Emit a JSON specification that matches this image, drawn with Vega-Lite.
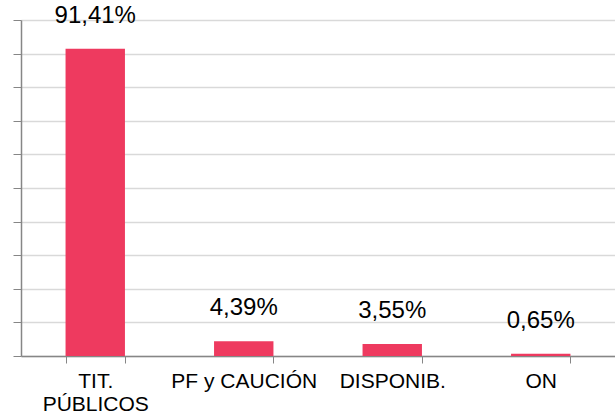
{
  "$schema": "https://vega.github.io/schema/vega-lite/v6.json",
  "width": 594,
  "height": 336,
  "autosize": {"type": "none"},
  "padding": {"left": 21, "top": 20, "right": 0, "bottom": 58},
  "background": "white",
  "config": {
    "view": {"stroke": null},
    "font": "Liberation Sans"
  },
  "data": {
    "values": [
      {"cat": "TIT. PÚBLICOS", "val": 91.41, "label": "91,41%"},
      {"cat": "PF y CAUCIÓN", "val": 4.39, "label": "4,39%"},
      {"cat": "DISPONIB.", "val": 3.55, "label": "3,55%"},
      {"cat": "ON", "val": 0.65, "label": "0,65%"}
    ]
  },
  "encoding": {
    "x": {
      "field": "cat",
      "type": "nominal",
      "sort": null,
      "scale": {"paddingInner": 0.6, "paddingOuter": 0.3},
      "axis": {
        "title": null,
        "labelAngle": 0,
        "labelFont": "Liberation Sans",
        "labelFontSize": 21,
        "labelColor": "#000000",
        "labelLineHeight": 23,
        "labelPadding": 7,
        "labelExpr": "datum.label == 'TIT. PÚBLICOS' ? ['TIT.', 'PÚBLICOS'] : datum.label",
        "tickBand": "extent",
        "tickSize": 7,
        "tickColor": "#868686",
        "domainColor": "#868686",
        "domainWidth": 1.5,
        "grid": false
      }
    },
    "y": {
      "field": "val",
      "type": "quantitative",
      "scale": {"domain": [0, 100], "nice": false},
      "axis": {
        "title": null,
        "labels": false,
        "values": [0, 10, 20, 30, 40, 50, 60, 70, 80, 90, 100],
        "tickSize": 8,
        "tickColor": "#868686",
        "domainColor": "#868686",
        "domainWidth": 1.5,
        "grid": true,
        "gridColor": "#D9D9D9",
        "gridWidth": 1.5
      }
    }
  },
  "layer": [
    {
      "mark": {"type": "bar", "color": "#EE3A5F"}
    },
    {
      "mark": {"type": "text", "baseline": "alphabetic", "dy": -26, "fontSize": 24, "font": "Liberation Sans", "color": "#000000"},
      "encoding": {
        "text": {"field": "label"}
      }
    }
  ]
}
